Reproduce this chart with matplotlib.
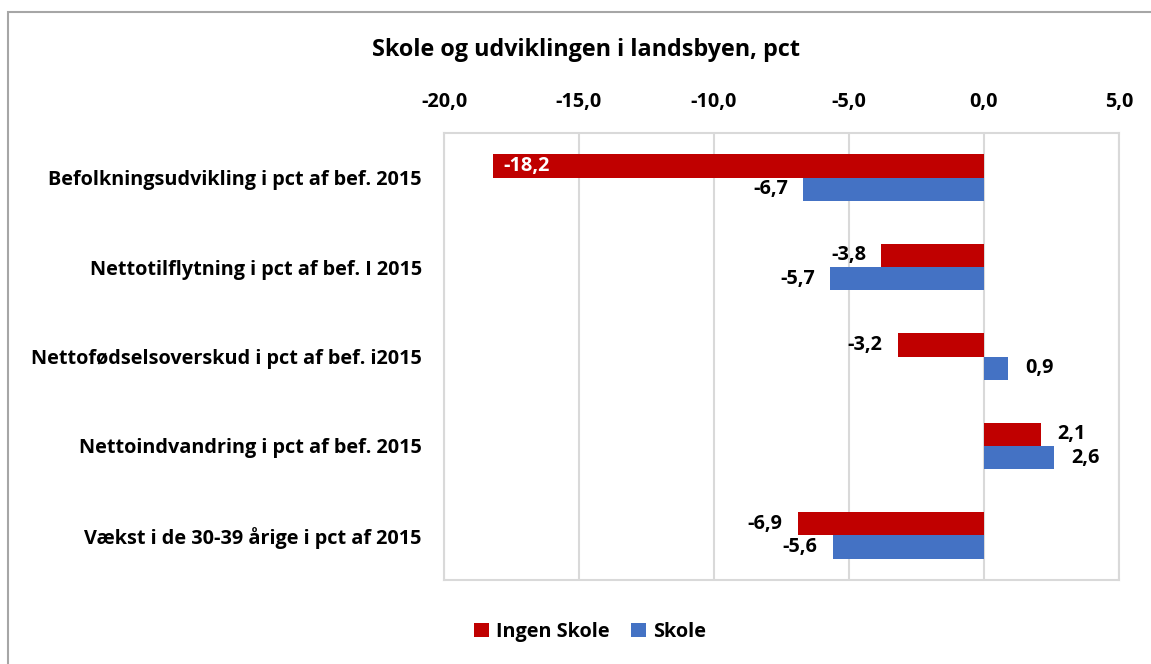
import matplotlib.pyplot as plt
from matplotlib.patches import Rectangle

categories = [
    "Befolkningsudvikling i pct af bef. 2015",
    "Nettotilflytning i pct af bef. I 2015",
    "Nettofødselsoverskud i pct af bef. i2015",
    "Nettoindvandring i pct af bef. 2015",
    "Vækst i de 30-39 årige i pct af 2015",
]
ingen_skole = [-18.2, -3.8, -3.2, 2.1, -6.9]
skole = [-6.7, -5.7, 0.9, 2.6, -5.6]
x_ticks = [-20, -15, -10, -5, 0, 5]

RED = "#C00000"
BLUE = "#4472C4"
GRID = "#D9D9D9"
FS = 14.3

plt.rcParams["font.family"] = ["Open Sans", "DejaVu Sans"]
plt.rcParams["font.weight"] = "bold"


def fmt(v):
    return f"{v:.1f}".replace(".", ",")


fig = plt.figure(figsize=(11.51, 6.64), dpi=100)
ax = fig.add_axes([444 / 1151, 1 - 580 / 664, 675 / 1151, 447 / 664])

# outer chart frame
fig.patches.append(Rectangle((8 / 1151, -0.05), 1.1, 1 - 12 / 664 + 0.05,
                             transform=fig.transFigure, fill=False,
                             edgecolor="#A6A6A6", linewidth=1.5))

h = 0.26
ys = list(range(len(categories)))
bars_r = ax.barh([y - h / 2 for y in ys], ingen_skole, height=h, color=RED,
                 label="Ingen Skole", zorder=3)
bars_b = ax.barh([y + h / 2 for y in ys], skole, height=h, color=BLUE,
                 label="Skole", zorder=3)

ax.set_xlim(-20, 5)
ax.set_ylim(len(categories) - 0.5, -0.5)
ax.set_xticks(x_ticks)
ax.set_xticklabels([fmt(t) for t in x_ticks], fontsize=FS, fontweight="bold")
ax.xaxis.tick_top()
ax.tick_params(axis="x", length=0, pad=15)
ax.set_yticks(ys)
ax.set_yticklabels(categories, fontsize=FS, fontweight="bold")
ax.tick_params(axis="y", length=0, pad=16)
ax.grid(axis="x", color=GRID, linewidth=1.5, zorder=0)
for s in ax.spines.values():
    s.set_color(GRID)
    s.set_linewidth(1.5)

for bars, vals in ((bars_r, ingen_skole), (bars_b, skole)):
    for b, v in zip(bars, vals):
        yc = b.get_y() + b.get_height() / 2
        if v <= -15:
            ax.annotate(fmt(v), (v, yc), xytext=(8, 0), textcoords="offset points",
                        ha="left", va="center", color="white", fontsize=FS,
                        fontweight="bold", zorder=4)
        elif v < 0:
            ax.annotate(fmt(v), (v, yc), xytext=(-11, 0), textcoords="offset points",
                        ha="right", va="center", color="black", fontsize=FS,
                        fontweight="bold", zorder=4)
        else:
            ax.annotate(fmt(v), (v, yc), xytext=(12, 0), textcoords="offset points",
                        ha="left", va="center", color="black", fontsize=FS,
                        fontweight="bold", zorder=4)

fig.text(586 / 1151, 1 - 50 / 664, "Skole og udviklingen i landsbyen, pct",
         ha="center", va="center", fontsize=16.8, fontweight="bold")

leg = fig.legend(loc="center", bbox_to_anchor=(590 / 1151, 1 - 632 / 664),
                 ncol=2, frameon=False, fontsize=FS, handlelength=0.75,
                 handleheight=0.75, handletextpad=0.35, columnspacing=1.1)

fig.savefig("out.png", dpi=100)
